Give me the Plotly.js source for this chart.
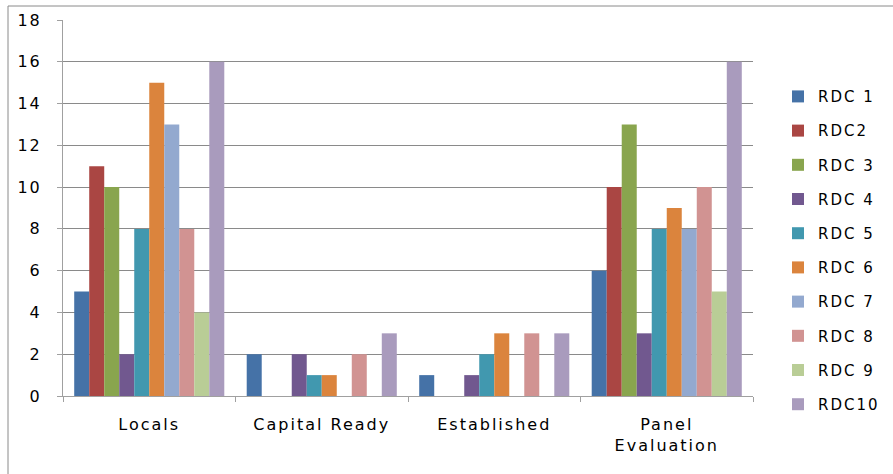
<!DOCTYPE html>
<html>
<head>
<meta charset="utf-8">
<script src="https://cdn.plot.ly/plotly-3.0.1.min.js"></script>
<style>
html,body{margin:0;padding:0;background:#fff;}
#chart{width:893px;height:474px;}
#chart .xtick text, #chart .ytick text, #chart .legendtext{letter-spacing:2px;}
#chart .legend .scrollbox{clip-path:none !important;}
</style>
</head>
<body>
<div id="chart"></div>
<script>
const categories = ["Locals", "Capital Ready", "Established", "Panel<br>Evaluation"];
const seriesNames = ["RDC 1", "RDC2", "RDC 3", "RDC 4", "RDC 5", "RDC 6", "RDC 7", "RDC 8", "RDC 9", "RDC10"];
const rdc1 = [5, 2, 1, 6];
const rdc2 = [11, 0, 0, 10];
const rdc3 = [10, 0, 0, 13];
const rdc4 = [2, 2, 1, 3];
const rdc5 = [8, 1, 2, 8];
const rdc6 = [15, 1, 3, 9];
const rdc7 = [13, 0, 0, 8];
const rdc8 = [8, 2, 3, 10];
const rdc9 = [4, 0, 0, 5];
const rdc10 = [16, 3, 3, 16];
const seriesValues = [rdc1, rdc2, rdc3, rdc4, rdc5, rdc6, rdc7, rdc8, rdc9, rdc10];
const colors = ["#4572A7", "#AA4643", "#89A54E", "#71588F", "#4198AF", "#DB843D", "#93A9CF", "#D19392", "#B9CD96", "#A99BBD"];

const FONT = "DejaVu Sans, Verdana, sans-serif";
const traces = seriesNames.map((name, i) => ({
  type: "bar",
  name: name,
  x: categories,
  y: seriesValues[i],
  legendgroup: "g" + i,
  marker: {color: colors[i], line: {width: 0}},
  hoverinfo: "x+y+name"
}));

const layout = {
  width: 893,
  height: 474,
  margin: {l: 63, r: 140, t: 20, b: 78, pad: 0, autoexpand: false},
  paper_bgcolor: "#ffffff",
  plot_bgcolor: "#ffffff",
  barmode: "group",
  bargap: 0.13,
  bargroupgap: 0,
  font: {family: FONT, size: 16, color: "#000000"},
  xaxis: {
    type: "category",
    showgrid: false,
    showline: true,
    linecolor: "#a0a0a0",
    linewidth: 1,
    ticks: "outside",
    tickson: "boundaries",
    ticklen: 5,
    tickcolor: "#a0a0a0",
    ticklabelstandoff: 14,
    tickfont: {family: FONT, size: 16, color: "#000"},
    zeroline: false
  },
  yaxis: {
    range: [0, 18],
    dtick: 2,
    showgrid: true,
    gridcolor: "#8a8a8a",
    gridwidth: 1,
    showline: true,
    linecolor: "#a0a0a0",
    linewidth: 1,
    ticks: "outside",
    ticklen: 5,
    tickcolor: "#a0a0a0",
    ticklabelstandoff: 12,
    tickfont: {family: FONT, size: 16, color: "#000"},
    zeroline: false
  },
  legend: {
    x: 1.0362,
    xanchor: "left",
    y: 0.84,
    yanchor: "top",
    font: {family: FONT, size: 15, color: "#000"},
    tracegroupgap: 11.7,
    bgcolor: "rgba(0,0,0,0)",
    traceorder: "grouped"
  },
  shapes: [
    {type: "line", xref: "paper", yref: "paper", x0: -0.0797, x1: 2, y0: 1.0372, y1: 1.0372, line: {color: "#8a8a8a", width: 1}},
    {type: "line", xref: "paper", yref: "paper", x0: -0.0797, x1: -0.0797, y0: -2, y1: 1.0372, line: {color: "#8a8a8a", width: 1}}
  ],
  showlegend: true
};

Plotly.newPlot("chart", traces, layout, {displayModeBar: false, staticPlot: true});
</script>
</body>
</html>
